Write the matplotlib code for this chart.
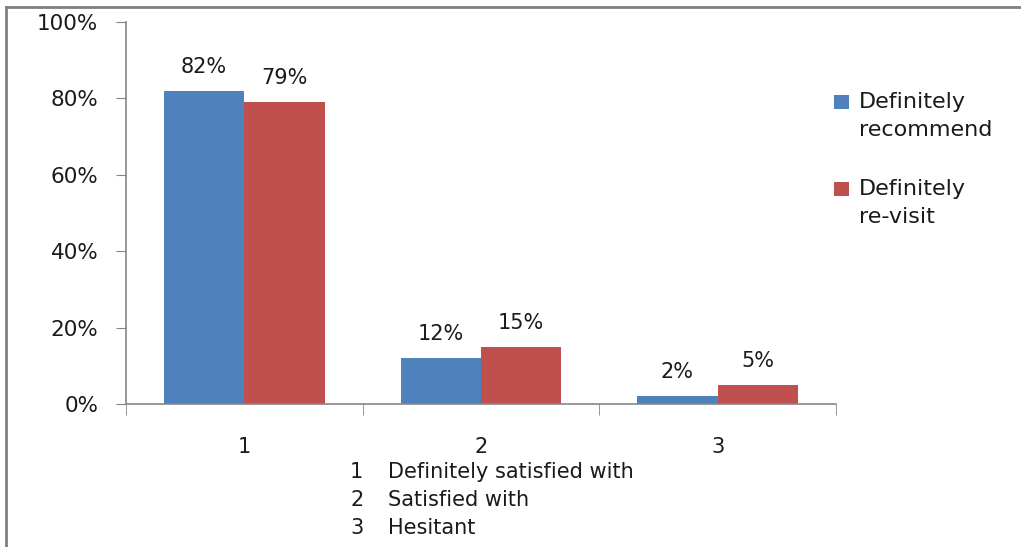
import matplotlib
matplotlib.use("Agg")
import matplotlib.pyplot as plt
import numpy as np
from matplotlib.lines import Line2D
from matplotlib.patches import Rectangle

categories = ["1", "2", "3"]
recommend = [82, 12, 2]
revisit = [79, 15, 5]
series_names = ["Definitely\nrecommend", "Definitely\nre-visit"]
y_ticks = [0, 20, 40, 60, 80, 100]
notes_num = ["1", "2", "3"]
notes_text = ["Definitely satisfied with", "Satisfied with", "Hesitant"]

blue = "#4F81BD"
red = "#C0504D"
axis_gray = "#868686"
txt = "#1a1a1a"

W, H = 1021, 547
fig = plt.figure(figsize=(W / 100, H / 100), dpi=100)
plt.rcParams['font.family'] = ['DejaVu Sans']

ax = fig.add_axes([126 / W, 1 - 404 / H, (836 - 126) / W, (404 - 22) / H])
x = np.arange(1, len(categories) + 1)
bw = 0.34
b1 = ax.bar(x - bw / 2, recommend, bw, color=blue, label=series_names[0])
b2 = ax.bar(x + bw / 2, revisit, bw, color=red, label=series_names[1])

for bars, vals in ((b1, recommend), (b2, revisit)):
    for r, v in zip(bars, vals):
        ax.annotate(f"{v}%", (r.get_x() + r.get_width() / 2, v),
                    xytext=(0, 10), textcoords="offset points",
                    ha="center", va="bottom", fontsize=15, color=txt)

ax.set_xlim(0.5, len(categories) + 0.5)
ax.set_ylim(0, 100)
ax.set_yticks(y_ticks)
ax.set_yticklabels([f"{t}%" for t in y_ticks])
ax.set_xticks(x)
ax.set_xticklabels(categories)
ax.set_xticks(np.arange(0.5, len(categories) + 1, 1), minor=True)
ax.tick_params(axis="x", which="major", length=0, pad=24, labelsize=15, labelcolor=txt)
ax.tick_params(axis="x", which="minor", length=8, color=axis_gray, direction="out")
ax.tick_params(axis="y", length=7, color=axis_gray, labelsize=15.5, labelcolor=txt, pad=13)
for s in ("top", "right"):
    ax.spines[s].set_visible(False)
for s in ("left", "bottom"):
    ax.spines[s].set_color(axis_gray)
    ax.spines[s].set_linewidth(1.2)

# legend (square aligned with first text line, as in the reference)
leg_colors = [blue, red]
leg_top = [102, 189]
for name, col, yt in zip(series_names, leg_colors, leg_top):
    fig.add_artist(Rectangle((834 / W, 1 - (yt + 7) / H), 15 / W, 14 / H,
                             transform=fig.transFigure, facecolor=col, edgecolor="none"))
    fig.text(859 / W, 1 - (yt - 10) / H, name, fontsize=16, color=txt,
             va="top", ha="left", linespacing=1.5)

for i, (n, t) in enumerate(zip(notes_num, notes_text)):
    yy = 1 - (472 + 28 * i) / H
    fig.text(350 / W, yy, n, fontsize=15, color=txt, va="center", ha="left")
    fig.text(388 / W, yy, t, fontsize=15, color=txt, va="center", ha="left")

# outer border (top and left visible)
fig.add_artist(Line2D([6 / W, 1], [1 - 7 / H, 1 - 7 / H], transform=fig.transFigure,
                      color="#808080", lw=2))
fig.add_artist(Line2D([6 / W, 6 / W], [0, 1 - 7 / H], transform=fig.transFigure,
                      color="#808080", lw=2))

fig.savefig("out.png", dpi=100)
